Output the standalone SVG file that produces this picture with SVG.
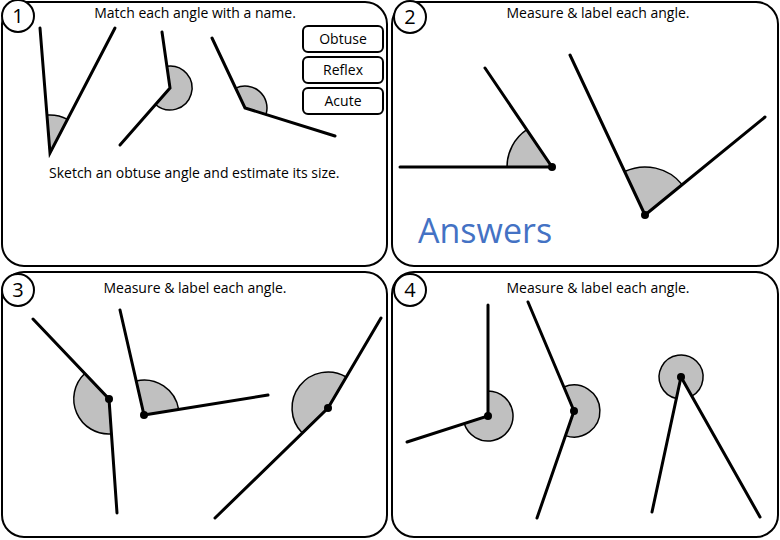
<svg xmlns="http://www.w3.org/2000/svg" width="780" height="540" viewBox="0 0 780 540">
<style>
.panel{fill:#fff;stroke:#000;stroke-width:2}
.num{fill:#fff;stroke:#000;stroke-width:2}
.ray{stroke:#000;stroke-width:3;fill:none;stroke-linecap:round}
.sec{fill:#c0c0c0;stroke:#000;stroke-width:1.5}
.t{font-family:"Open Sans","Liberation Sans",sans-serif;font-size:14px;fill:#000}
.n{font-family:"Open Sans","Liberation Sans",sans-serif;font-size:20px;fill:#000}
.btn{fill:#fff;stroke:#000;stroke-width:2}
</style>
<rect width="780" height="540" fill="#fff"/>
<g id="panel1">
<rect class="panel" x="2" y="2" width="385" height="264" rx="22"/>
<circle class="num" cx="18" cy="16" r="16"/><text class="n" x="18" y="23" text-anchor="middle">1</text>
<text class="t" x="195" y="18" text-anchor="middle">Match each angle with a name.</text>
<path class="sec" d="M50,153 L47,115 A38 38 0 0 1 67.5,119.3 Z"/>
<path class="ray" d="M40,28 L50,153 L115,28"/>
<path class="sec" d="M170,88 L166.9,66.2 A22 22 0 1 1 155.5,104.5 Z"/>
<path class="ray" d="M162,32 L170,88 L120,145"/>
<path class="sec" d="M245,108 L235.6,88.1 A22 22 0 0 1 266,114.5 Z"/>
<path class="ray" d="M212,38 L245,108 L335,136"/>
<g id="btn-obtuse"><rect class="btn" x="303" y="26" width="80" height="26" rx="5"/><text class="t" x="343" y="44" text-anchor="middle">Obtuse</text></g>
<g id="btn-reflex"><rect class="btn" x="303" y="57" width="80" height="26" rx="5"/><text class="t" x="343" y="75" text-anchor="middle">Reflex</text></g>
<g id="btn-acute"><rect class="btn" x="303" y="88" width="80" height="26" rx="5"/><text class="t" x="343" y="106" text-anchor="middle">Acute</text></g>
<text class="t" x="49" y="178" font-size="12.3">Sketch an obtuse angle and estimate its size.</text>
</g>
<g id="panel2">
<rect class="panel" x="392" y="2" width="386" height="264" rx="22"/>
<circle class="num" cx="410" cy="17" r="16"/><text class="n" x="410" y="24" text-anchor="middle">2</text>
<text class="t" x="598" y="18" text-anchor="middle">Measure &amp; label each angle.</text>
<path class="sec" d="M552,167 L507,167 A45 45 0 0 1 526.8,129.7 Z"/>
<path class="ray" d="M400,167 L552,167 L485,68"/>
<circle cx="552" cy="167" r="4"/>
<path class="sec" d="M645,215 L624.6,171.5 A48 48 0 0 1 682.2,184.6 Z"/>
<path class="ray" d="M570,55 L645,215 L765,117"/>
<circle cx="645" cy="215" r="4"/>
<text x="418" y="243" font-family="Open Sans, Liberation Sans, sans-serif" font-size="34" fill="#4472C4">Answers</text>
</g>
<g id="panel3">
<rect class="panel" x="2" y="272" width="385" height="265" rx="22"/>
<circle class="num" cx="18" cy="290" r="16"/><text class="n" x="18" y="297" text-anchor="middle">3</text>
<text class="t" x="195" y="293" text-anchor="middle">Measure &amp; label each angle.</text>
<path class="sec" d="M109,399 L84.8,373.5 A35 35 0 0 0 111.4,433.9 Z"/>
<path class="ray" d="M33,319 L109,399 L117,513"/>
<circle cx="109" cy="399" r="4"/>
<path class="sec" d="M144,415 L136.2,380.9 A35 35 0 0 1 178.6,409.4 Z"/>
<path class="ray" d="M120,310 L144,415 L268,395"/>
<circle cx="144" cy="415" r="4"/>
<path class="sec" d="M328,408 L346.3,377 A36 36 0 0 0 302.2,433.1 Z"/>
<path class="ray" d="M381,318 L328,408 L215,518"/>
<circle cx="328" cy="408" r="4"/>
</g>
<g id="panel4">
<rect class="panel" x="392" y="272" width="386" height="265" rx="22"/>
<circle class="num" cx="410" cy="290" r="16"/><text class="n" x="410" y="297" text-anchor="middle">4</text>
<text class="t" x="598" y="293" text-anchor="middle">Measure &amp; label each angle.</text>
<path class="sec" d="M488,416 L488,391 A25 25 0 1 1 464.2,423.6 Z"/>
<path class="ray" d="M488,305 L488,416 L407,442"/>
<circle cx="488" cy="416" r="4"/>
<path class="sec" d="M574,411 L563.9,387 A26 26 0 1 1 565.5,435.6 Z"/>
<path class="ray" d="M528,302 L574,411 L537,518"/>
<circle cx="574" cy="411" r="4"/>
<path class="sec" d="M681,377 L691.8,396.2 A22 22 0 1 0 676.4,398.5 Z"/>
<path class="ray" d="M652,512 L681,377 L760,517"/>
<circle cx="681" cy="377" r="4"/>
</g>
</svg>
